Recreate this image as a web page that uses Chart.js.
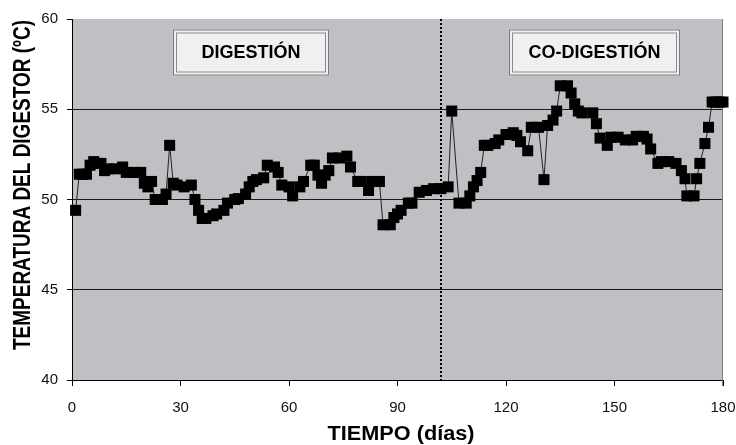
<!DOCTYPE html>
<html>
<head>
<meta charset="utf-8">
<script src="https://cdn.jsdelivr.net/npm/chart.js@4.4.1/dist/chart.umd.min.js"></script>
<style>
html,body{margin:0;padding:0;background:#fff;}
#wrap{width:736px;height:445px;position:relative;}
</style>
</head>
<body>
<div id="wrap"><canvas id="c" width="736" height="445"></canvas></div>
<script>
const days = [1,2,3,4,5,6,7,8,9,10,12,14,15,17,19,20,21,22,23,25,26,27,28,29,31,33,34,35,36,37,39,40,42,43,45,46,48,49,50,51,53,54,56,57,58,60,61,63,64,66,67,68,69,70,71,72,74,76,77,79,80,82,83,85,86,88,89,90,91,93,94,96,98,100,102,104,105,107,109,110,111,112,113,114,115,117,118,120,122,123,124,126,127,129,130.5,131.5,133,134,135,137,138,139,140,141,144,145,146,148,149,151,153,155,156,158,159,160,162,163,165,167,168.5,169.5,170,172,172.7,173.6,175,176,177,178,179,180];
const temps = [49.4,51.4,51.4,51.4,51.9,52.1,52.0,52.0,51.6,51.7,51.7,51.8,51.5,51.5,51.5,50.9,50.7,51.0,50.0,50.0,50.3,53.0,50.9,50.8,50.7,50.8,50.0,49.4,48.95,48.95,49.1,49.2,49.4,49.8,50.0,50.05,50.3,50.7,51.0,51.1,51.2,51.9,51.8,51.5,50.8,50.7,50.2,50.7,51.0,51.9,51.9,51.35,50.9,51.35,51.6,52.3,52.3,52.4,51.8,51.0,51.0,50.5,51.0,51.0,48.6,48.6,49.0,49.2,49.4,49.8,49.8,50.4,50.5,50.6,50.6,50.7,54.9,49.8,49.8,50.2,50.7,51.05,51.5,53.0,53.0,53.1,53.3,53.6,53.7,53.55,53.2,52.7,54.0,54.0,51.1,54.1,54.4,54.9,56.3,56.3,55.9,55.3,54.9,54.8,54.8,54.2,53.4,53.0,53.45,53.45,53.3,53.3,53.5,53.5,53.35,52.8,52.0,52.1,52.1,52.0,51.6,51.15,50.2,50.2,51.15,52.0,53.1,54.0,55.4,55.4,55.4,55.4];
const xTicks = [0,30,60,90,120,150,180];
const yTicks = [40,45,50,55,60];
const xTitle = 'TIEMPO (días)';
const yTitle = 'TEMPERATURA DEL DIGESTOR (ºC)';
const phaseLabels = ['DIGESTIÓN','CO-DIGESTIÓN'];
const phaseChangeDay = 102;

const FONT = '"Liberation Sans", Arial, Helvetica, sans-serif';

const decorPlugin = {
  id: 'decor',
  beforeDraw(chart) {
    const {ctx, chartArea: a} = chart;
    ctx.save();
    ctx.fillStyle = '#c0c0c4';
    ctx.fillRect(a.left, a.top, a.right - a.left, a.bottom - a.top);
    ctx.restore();
  },
  beforeDatasetsDraw(chart) {
    const {ctx, chartArea: a, scales} = chart;
    ctx.save();
    ctx.strokeStyle = '#808080';
    ctx.lineWidth = 1;
    ctx.beginPath();
    ctx.moveTo(Math.round(a.right) - 0.5, a.top);
    ctx.lineTo(Math.round(a.right) - 0.5, a.bottom + 6);
    ctx.stroke();
    const px = Math.round(scales.x.getPixelForValue(phaseChangeDay));
    ctx.strokeStyle = '#000';
    ctx.lineWidth = 2;
    ctx.setLineDash([2, 2]);
    ctx.beginPath();
    ctx.moveTo(px, a.top);
    ctx.lineTo(px, a.bottom);
    ctx.stroke();
    ctx.setLineDash([]);
    const boxes = [
      {x0: 173, x1: 329, y0: 29.5, y1: 75.5, t: phaseLabels[0]},
      {x0: 509, x1: 680, y0: 29.5, y1: 75.5, t: phaseLabels[1]}
    ];
    boxes.forEach(b => {
      ctx.fillStyle = '#f0f0f2';
      ctx.fillRect(b.x0, b.y0, b.x1 - b.x0, b.y1 - b.y0);
      ctx.strokeStyle = '#7a7a7a';
      ctx.lineWidth = 1;
      ctx.strokeRect(b.x0 + 0.5, b.y0 + 0.5, b.x1 - b.x0 - 1, b.y1 - b.y0 - 1);
      ctx.strokeStyle = '#8a8a8a';
      ctx.strokeRect(b.x0 + 3.5, b.y0 + 3.5, b.x1 - b.x0 - 7, b.y1 - b.y0 - 7);
      ctx.fillStyle = '#000';
      ctx.font = 'bold 18px ' + FONT;
      ctx.textAlign = 'center';
      ctx.textBaseline = 'middle';
      ctx.fillText(b.t, (b.x0 + b.x1) / 2, (b.y0 + b.y1) / 2 + 0.5);
    });
    ctx.restore();
  },
  afterDraw(chart) {
    const {ctx} = chart;
    ctx.save();
    ctx.fillStyle = '#000';
    ctx.textAlign = 'center';
    ctx.textBaseline = 'middle';
    ctx.font = 'bold 20px ' + FONT;
    let w = ctx.measureText(xTitle).width;
    ctx.translate(401, 434);
    ctx.scale(147 / w, 1);
    ctx.fillText(xTitle, 0, 0);
    ctx.restore();
    ctx.save();
    ctx.fillStyle = '#000';
    ctx.textAlign = 'center';
    ctx.textBaseline = 'middle';
    ctx.font = 'bold 19px ' + FONT;
    w = ctx.measureText(yTitle).width;
    ctx.translate(23, 185);
    ctx.rotate(-Math.PI / 2);
    ctx.scale(330 / w, 1.3);
    ctx.fillText(yTitle, 0, 0);
    ctx.restore();
  }
};

const points = days.map((d, i) => ({x: d, y: temps[i]}));

new Chart(document.getElementById('c'), {
  type: 'line',
  data: {
    datasets: [{
      data: points,
      borderColor: '#222',
      borderWidth: 1,
      pointStyle: 'rect',
      pointRadius: 7.8,
      pointHoverRadius: 7.8,
      pointBackgroundColor: '#000',
      pointBorderWidth: 0,
      tension: 0,
      clip: false
    }]
  },
  options: {
    responsive: false,
    animation: false,
    events: [],
    layout: {padding: {top: 19, right: 13, left: 0, bottom: 0}},
    plugins: {legend: {display: false}, tooltip: {enabled: false}},
    scales: {
      x: {
        type: 'linear',
        min: 0, max: 180,
        afterBuildTicks: s => { s.ticks = xTicks.map(v => ({value: v})); },
        afterFit: s => { s.height = 65; s.paddingLeft = 0; s.paddingRight = 0; },
        grid: {drawOnChartArea: false, drawTicks: true, tickLength: 6, tickColor: '#000'},
        border: {color: '#000', width: 1},
        ticks: {color: '#111', font: {family: FONT, size: 15}, padding: 13, maxRotation: 0}
      },
      y: {
        min: 40, max: 60,
        afterBuildTicks: s => { s.ticks = yTicks.map(v => ({value: v})); },
        afterFit: s => { s.width = 72; s.paddingTop = 0; s.paddingBottom = 0; },
        grid: {
          color: ctx => (ctx.tick && (ctx.tick.value === 60 || ctx.tick.value === 40)) ? 'rgba(0,0,0,0)' : '#1a1a1a',
          tickColor: '#000', tickLength: 5, lineWidth: 1
        },
        border: {color: '#000', width: 1},
        ticks: {color: '#111', font: {family: FONT, size: 15}, padding: 9}
      }
    }
  },
  plugins: [decorPlugin]
});
</script>
</body>
</html>
